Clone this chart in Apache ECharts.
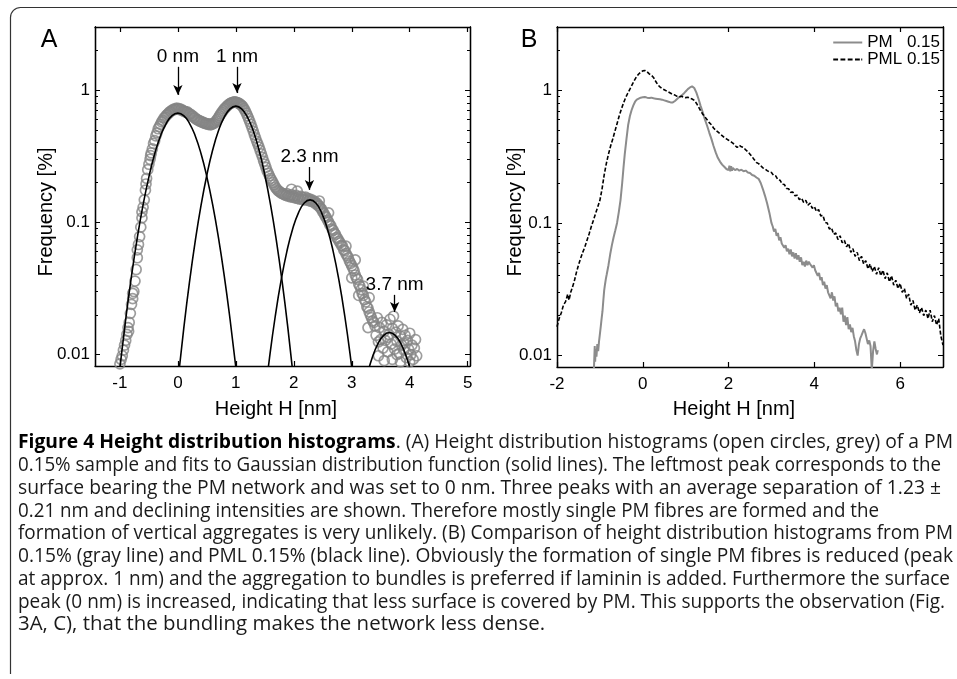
<!DOCTYPE html>
<html><head><meta charset="utf-8">
<script src="https://cdn.jsdelivr.net/npm/echarts@6/dist/echarts.min.js"></script>
<style>html,body{margin:0;padding:0;background:#fff}#chart{width:957px;height:679px}</style>
</head><body><div id="chart"></div>
<script>
// ---------- data ----------
const circlesA = [
[-1.00,0.0085],[-0.98,0.0092],[-0.96,0.0098],[-0.94,0.0108],[-0.92,0.0118],[-0.90,0.0128],[-0.88,0.0142],[-0.86,0.0160],[-0.84,0.0175],[-0.82,0.0205],
[-0.80,0.0240],[-0.78,0.0265],[-0.76,0.0300],[-0.74,0.0360],[-0.72,0.0440],[-0.70,0.0540],[-0.68,0.0680],[-0.66,0.0780],[-0.64,0.0920],[-0.62,0.1080],
[-0.60,0.1300],[-0.58,0.1480],[-0.56,0.1750],[-0.54,0.2150],[-0.52,0.2500],[-0.50,0.2750],[-0.48,0.3000],[-0.46,0.3350],[-0.44,0.3600],[-0.42,0.3950],
[-0.40,0.4150],[-0.38,0.4500],[-0.36,0.4750],[-0.34,0.5100],[-0.32,0.5300],[-0.30,0.5500],[-0.28,0.5750],[-0.26,0.5900],[-0.24,0.6150],[-0.22,0.6250],
[-0.20,0.6450],[-0.18,0.6550],[-0.16,0.6700],[-0.14,0.6850],[-0.12,0.6900],[-0.10,0.7050],[-0.08,0.7100],[-0.06,0.7200],[-0.04,0.7150],[-0.02,0.7300],
[0.00,0.7200],[0.02,0.7250],[0.04,0.7100],[0.06,0.7150],[0.08,0.7000],[0.10,0.6950],[0.12,0.6900],[0.14,0.6800],[0.16,0.6850],[0.18,0.6700],
[0.20,0.6600],[0.22,0.6550],[0.24,0.6400],[0.26,0.6350],[0.28,0.6200],[0.30,0.6150],[0.32,0.6000],[0.34,0.5950],[0.36,0.5900],[0.38,0.5800],
[0.40,0.5800],[0.42,0.5700],[0.44,0.5700],[0.46,0.5600],[0.48,0.5600],[0.50,0.5550],[0.52,0.5500],[0.54,0.5550],[0.56,0.5450],[0.58,0.5500],
[0.60,0.5550],[0.62,0.5600],[0.64,0.5700],[0.66,0.5850],[0.68,0.6000],[0.70,0.6200],[0.72,0.6400],[0.74,0.6600],[0.76,0.6800],[0.78,0.7000],
[0.80,0.7200],[0.82,0.7350],[0.84,0.7500],[0.86,0.7650],[0.88,0.7800],[0.90,0.7900],[0.92,0.8000],[0.94,0.8050],[0.96,0.8100],[0.98,0.8150],
[1.00,0.8100],[1.02,0.8050],[1.04,0.8000],[1.06,0.7900],[1.08,0.7800],[1.10,0.7650],[1.12,0.7500],[1.14,0.7250],[1.16,0.7000],[1.18,0.6700],
[1.20,0.6400],[1.22,0.6100],[1.24,0.5800],[1.26,0.5500],[1.28,0.5200],[1.30,0.4900],[1.32,0.4600],[1.34,0.4350],[1.36,0.4100],[1.38,0.3900],
[1.40,0.3700],[1.42,0.3500],[1.44,0.3300],[1.46,0.3100],[1.48,0.2900],[1.50,0.2750],[1.52,0.2600],[1.54,0.2450],[1.56,0.2350],[1.58,0.2250],
[1.60,0.2150],[1.62,0.2080],[1.64,0.2000],[1.66,0.1920],[1.68,0.1850],[1.70,0.1800],[1.72,0.1750],[1.74,0.1720],[1.76,0.1700],[1.78,0.1670],
[1.80,0.1650],[1.82,0.1640],[1.84,0.1620],[1.86,0.1600],[1.88,0.1650],[1.90,0.1580],[1.92,0.1600],[1.94,0.1560],[1.96,0.1620],[1.98,0.1550],
[2.00,0.1580],[2.02,0.1530],[2.04,0.1600],[2.06,0.1520],[2.08,0.1560],[2.10,0.1500],[2.12,0.1570],[2.14,0.1500],[2.16,0.1540],[2.18,0.1480],
[2.20,0.1550],[2.22,0.1480],[2.24,0.1520],[2.26,0.1460],[2.28,0.1500],[2.30,0.1440],[2.32,0.1470],[2.34,0.1420],[2.36,0.1440],[2.38,0.1380],
[2.40,0.1400],[2.42,0.1340],[2.44,0.1330],[2.46,0.1280],[2.48,0.1260],[2.50,0.1200],[2.52,0.1170],[2.54,0.1120],[2.56,0.1090],[2.58,0.1040],
[2.60,0.1010],[2.62,0.0960],[2.64,0.0940],[2.66,0.0890],[2.68,0.0870],[2.70,0.0830],[2.72,0.0810],[2.74,0.0770],[2.76,0.0750],[2.78,0.0720],
[2.80,0.0700],[2.82,0.0670],[2.84,0.0660],[2.86,0.0620],[2.88,0.0610],[2.90,0.0580],[2.92,0.0560],[2.94,0.0540],[2.96,0.0510],[2.98,0.0490],
[3.00,0.0470],[3.02,0.0450],[3.04,0.0430],[3.06,0.0400],[3.08,0.0380],[3.10,0.0370],[3.12,0.0340],[3.14,0.0330],[3.16,0.0310],[3.18,0.0290],
[3.20,0.0280],[3.22,0.0260],[3.24,0.0250],[3.26,0.0230],[3.28,0.0225],[3.30,0.0210],[3.32,0.0200],[3.34,0.0190],[3.36,0.0180],[3.38,0.0175],
[1.96,0.1780],[2.06,0.1720],[2.44,0.1450],[2.60,0.1180],[2.90,0.0660],[3.00,0.0380],[3.06,0.0520],[3.12,0.0280],[3.20,0.0330],[3.28,0.0160],[3.30,0.0270],
[-0.70,0.0620],[-0.62,0.1200],[-0.55,0.1950],[-0.47,0.3200],[-0.85,0.0150],[-0.78,0.0290],
[3.40,0.0165],[3.42,0.0140],[3.44,0.0190],[3.46,0.0125],[3.48,0.0160],[3.50,0.0130],[3.52,0.0175],[3.54,0.0112],[3.56,0.0150],[3.58,0.0128],
[3.60,0.0168],[3.62,0.0105],[3.64,0.0142],[3.66,0.0185],[3.68,0.0120],[3.70,0.0158],[3.72,0.0195],[3.74,0.0110],[3.76,0.0148],[3.78,0.0126],
[3.80,0.0165],[3.82,0.0102],[3.84,0.0138],[3.86,0.0118],[3.88,0.0155],[3.90,0.0108],[3.92,0.0140],[3.94,0.0095],[3.96,0.0128],[3.98,0.0110],
[4.00,0.0145],[4.02,0.0100],[4.04,0.0118],[4.06,0.0092],[4.08,0.0112],[4.10,0.0130],[4.12,0.0098],
[3.56,0.0090],[3.70,0.0092],[3.84,0.0088],[3.46,0.0098],[3.90,0.0122],[3.62,0.0135],[3.78,0.0100],[4.00,0.0088]
];
const fitPeak0 = [[-1.0,0.0080],[-0.9,0.0185],[-0.8,0.0394],[-0.7,0.0765],[-0.6,0.136],[-0.5,0.221],[-0.4,0.330],[-0.3,0.450],[-0.2,0.561],[-0.1,0.641],[0,0.67],
[0.1,0.641],[0.2,0.561],[0.3,0.450],[0.4,0.330],[0.5,0.221],[0.6,0.136],[0.7,0.0765],[0.8,0.0394],[0.9,0.0185],[1.0,0.0080]];
const fitPeak1 = [[0.0,0.00628],[0.1,0.0156],[0.2,0.0353],[0.3,0.0724],[0.4,0.135],[0.5,0.228],[0.6,0.352],[0.7,0.492],[0.8,0.625],[0.9,0.722],[1.0,0.757],
[1.1,0.722],[1.2,0.625],[1.3,0.492],[1.4,0.352],[1.5,0.228],[1.6,0.135],[1.7,0.0724],[1.8,0.0353],[1.9,0.0156],[2.0,0.00628]];
const fitPeak2 = [[1.48,0.00403],[1.58,0.00938],[1.68,0.0195],[1.78,0.0362],[1.88,0.0601],[1.98,0.0892],[2.08,0.118],[2.18,0.140],[2.28,0.148],
[2.38,0.140],[2.48,0.118],[2.58,0.0892],[2.68,0.0601],[2.78,0.0362],[2.88,0.0195],[2.98,0.00938],[3.08,0.00403]];
const fitPeak3 = [[3.25,0.00663],[3.35,0.00939],[3.45,0.01205],[3.55,0.01399],[3.65,0.0147],[3.75,0.01399],[3.85,0.01205],[3.95,0.00939],[4.05,0.00663]];

const pmB = [
[-1.14,0.0078],[-1.12,0.0118],[-1.11,0.0090],[-1.10,0.0112],[-1.08,0.0098],[-1.06,0.0122],[-1.04,0.0108],[-1.02,0.0128],[-1.00,0.0145],[-0.98,0.0165],
[-0.96,0.0190],[-0.94,0.0215],[-0.92,0.0260],[-0.90,0.0310],[-0.88,0.0345],[-0.86,0.0380],[-0.84,0.0410],[-0.80,0.0480],[-0.76,0.0580],[-0.72,0.0680],
[-0.68,0.0780],[-0.64,0.0880],[-0.60,0.1000],[-0.56,0.1200],[-0.52,0.1480],[-0.48,0.2000],[-0.45,0.2600],[-0.42,0.3300],[-0.38,0.4300],[-0.34,0.5500],
[-0.30,0.6400],[-0.26,0.7100],[-0.22,0.7700],[-0.18,0.8200],[-0.14,0.8500],[-0.10,0.8700],[-0.05,0.8800],[0.00,0.8850],[0.05,0.8900],[0.10,0.8800],
[0.15,0.8750],[0.20,0.8800],[0.25,0.8700],[0.30,0.8650],[0.35,0.8600],[0.40,0.8550],[0.45,0.8500],[0.50,0.8400],[0.55,0.8300],[0.60,0.8200],
[0.65,0.8100],[0.70,0.8100],[0.75,0.8300],[0.80,0.8600],[0.85,0.8900],[0.90,0.9100],[0.95,0.9400],[1.00,0.9800],[1.05,1.0200],[1.10,1.0500],
[1.15,1.0700],[1.20,1.0400],[1.25,0.9600],[1.30,0.8600],[1.35,0.7600],[1.40,0.6800],[1.45,0.6000],[1.50,0.5400],[1.55,0.4800],[1.60,0.4300],
[1.65,0.3800],[1.70,0.3400],[1.75,0.3100],[1.80,0.2900],[1.85,0.2750],[1.90,0.2650],[1.95,0.2550],[2.00,0.2500],[2.02,0.2700],[2.04,0.2450],
[2.06,0.2680],[2.08,0.2480],[2.10,0.2600],[2.15,0.2500],[2.20,0.2550],[2.25,0.2480],[2.30,0.2520],[2.35,0.2450],[2.40,0.2480],[2.45,0.2400],
[2.50,0.2380],[2.55,0.2300],[2.60,0.2270],[2.65,0.2200],[2.70,0.2150],[2.75,0.2000],[2.80,0.1800],[2.85,0.1600],[2.90,0.1400],[2.95,0.1200],
[3.00,0.1000],[3.03,0.0940],[3.06,0.0860],[3.09,0.0900],[3.12,0.0800],[3.15,0.0840],[3.18,0.0740],[3.21,0.0780],[3.24,0.0700],[3.27,0.0720],
[3.30,0.0650],[3.33,0.0680],[3.36,0.0610],[3.39,0.0640],[3.42,0.0580],[3.45,0.0630],[3.48,0.0560],[3.51,0.0600],[3.54,0.0540],[3.57,0.0590],
[3.60,0.0530],[3.63,0.0570],[3.66,0.0510],[3.69,0.0550],[3.72,0.0480],[3.75,0.0510],[3.78,0.0470],[3.81,0.0520],[3.84,0.0480],[3.87,0.0510],
[3.90,0.0490],[3.93,0.0500],[3.96,0.0460],[3.99,0.0480],[4.02,0.0440],[4.05,0.0450],[4.08,0.0400],[4.11,0.0420],[4.14,0.0370],[4.17,0.0390],
[4.20,0.0340],[4.23,0.0360],[4.26,0.0320],[4.29,0.0340],[4.32,0.0300],[4.35,0.0310],[4.38,0.0270],[4.41,0.0300],[4.44,0.0260],[4.47,0.0280],
[4.50,0.0235],[4.53,0.0250],[4.56,0.0215],[4.59,0.0230],[4.62,0.0205],[4.65,0.0230],[4.68,0.0180],[4.71,0.0200],[4.74,0.0170],[4.77,0.0195],
[4.80,0.0158],[4.83,0.0172],[4.86,0.0150],[4.89,0.0162],[4.92,0.0140],[4.95,0.0128],[4.98,0.0110],[5.01,0.0100],[5.04,0.0122],[5.07,0.0135],
[5.10,0.0142],[5.13,0.0150],[5.16,0.0158],[5.19,0.0148],[5.22,0.0152],[5.25,0.0122],[5.28,0.0130],[5.31,0.0118],[5.34,0.0078],[5.37,0.0108],
[5.40,0.0128],[5.43,0.0112],[5.46,0.0102],[5.48,0.0110]
];
const pmlB = [
[-2.00,0.0165],[-1.95,0.0190],[-1.90,0.0210],[-1.85,0.0240],[-1.80,0.0255],[-1.75,0.0290],[-1.72,0.0262],[-1.68,0.0300],[-1.65,0.0320],[-1.60,0.0360],
[-1.55,0.0420],[-1.50,0.0480],[-1.45,0.0540],[-1.40,0.0600],[-1.35,0.0660],[-1.30,0.0740],[-1.25,0.0830],[-1.20,0.0940],[-1.15,0.1050],[-1.10,0.1180],
[-1.05,0.1320],[-1.00,0.1480],[-0.95,0.1800],[-0.90,0.2300],[-0.85,0.2800],[-0.80,0.3300],[-0.75,0.3800],[-0.70,0.4300],[-0.65,0.4900],[-0.60,0.5600],
[-0.55,0.6400],[-0.50,0.7200],[-0.45,0.8000],[-0.40,0.8800],[-0.35,0.9500],[-0.30,1.0200],[-0.25,1.1000],[-0.20,1.1800],[-0.15,1.2600],[-0.10,1.3200],
[-0.05,1.3700],[0.00,1.4000],[0.05,1.4100],[0.10,1.3800],[0.15,1.3300],[0.20,1.3000],[0.25,1.2500],[0.30,1.1700],[0.35,1.1000],[0.40,1.0600],
[0.45,1.0300],[0.50,1.0100],[0.55,0.9900],[0.60,0.9700],[0.65,0.9500],[0.70,0.9300],[0.75,0.9200],[0.80,0.9000],[0.85,0.8900],[0.90,0.9000],
[0.95,0.8900],[1.00,0.8800],[1.05,0.8850],[1.10,0.8700],[1.15,0.8600],[1.20,0.8400],[1.25,0.8000],[1.30,0.7500],[1.35,0.7000],[1.40,0.6600],
[1.45,0.6300],[1.50,0.6000],[1.55,0.5700],[1.60,0.5500],[1.65,0.5200],[1.70,0.5000],[1.75,0.4850],[1.80,0.4700],[1.85,0.4550],[1.90,0.4400],
[1.95,0.4300],[2.00,0.4200],[2.05,0.4100],[2.10,0.4000],[2.15,0.3850],[2.20,0.3700],[2.25,0.3850],[2.30,0.3750],[2.35,0.3700],[2.40,0.3550],
[2.45,0.3450],[2.50,0.3300],[2.55,0.3150],[2.60,0.3000],[2.65,0.2850],[2.70,0.2800],[2.75,0.2700],[2.80,0.2600],[2.85,0.2550],[2.90,0.2480],
[2.95,0.2420],[3.00,0.2400],[3.05,0.2280],[3.10,0.2260],[3.15,0.2120],[3.20,0.2100],[3.25,0.1960],[3.30,0.1950],[3.35,0.1820],[3.40,0.1810],
[3.45,0.1700],[3.50,0.1710],[3.55,0.1600],[3.60,0.1620],[3.65,0.1500],[3.70,0.1540],[3.75,0.1430],[3.80,0.1480],[3.85,0.1360],[3.90,0.1410],
[3.95,0.1290],[4.00,0.1330],[4.05,0.1220],[4.10,0.1260],[4.15,0.1130],[4.20,0.1140],[4.25,0.1010],[4.30,0.1000],[4.35,0.0900],[4.40,0.0920],
[4.45,0.0820],[4.50,0.0840],[4.55,0.0750],[4.60,0.0800],[4.65,0.0710],[4.70,0.0740],[4.75,0.0660],[4.80,0.0700],[4.85,0.0600],[4.90,0.0640],
[4.95,0.0560],[5.00,0.0600],[5.05,0.0520],[5.10,0.0560],[5.15,0.0490],[5.20,0.0520],[5.25,0.0450],[5.30,0.0490],[5.35,0.0430],[5.40,0.0470],
[5.45,0.0410],[5.50,0.0460],[5.55,0.0400],[5.60,0.0440],[5.65,0.0380],[5.70,0.0420],[5.75,0.0360],[5.80,0.0400],[5.85,0.0340],[5.90,0.0370],
[5.95,0.0320],[6.00,0.0350],[6.05,0.0300],[6.10,0.0320],[6.15,0.0270],[6.20,0.0290],[6.25,0.0240],[6.30,0.0260],[6.35,0.0220],[6.40,0.0240],
[6.45,0.0210],[6.50,0.0230],[6.55,0.0200],[6.60,0.0220],[6.65,0.0190],[6.70,0.0220],[6.75,0.0180],[6.80,0.0200],[6.85,0.0170],[6.90,0.0190],
[6.95,0.0140],[7.00,0.0120]
];

const xTicksA = [-1,0,1,2,3,4,5];
const xTicksB = [-2,0,2,4,6];
const yTicks = [0.01,0.1,1];
const yMinorTicks = [0.02,0.03,0.04,0.05,0.06,0.07,0.08,0.09,0.2,0.3,0.4,0.5,0.6,0.7,0.8,0.9,2,3];
const peakLabels = ['0 nm','1 nm','2.3 nm','3.7 nm'];
const peakArrowX = [0, 1.02, 2.27, 3.74];
const peakArrowTop = [1.5, 1.5, 0.262, 0.0283];
const peakArrowEnd = [0.92, 0.95, 0.176, 0.021];
const legendNames = ['PM   0.15','PML 0.15'];
const panelLetters = ['A','B'];
const axisNameX = 'Height H [nm]';
const axisNameY = 'Frequency [%]';
const captionTitle = 'Figure 4 Height distribution histograms';
const captionLines = [
 '. (A) Height distribution histograms (open circles, grey) of a PM',
 '0.15% sample and fits to Gaussian distribution function (solid lines). The leftmost peak corresponds to the',
 'surface bearing the PM network and was set to 0 nm. Three peaks with an average separation of 1.23 \u00b1',
 '0.21 nm and declining intensities are shown. Therefore mostly single PM fibres are formed and the',
 'formation of vertical aggregates is very unlikely. (B) Comparison of height distribution histograms from PM',
 '0.15% (gray line) and PML 0.15% (black line). Obviously the formation of single PM fibres is reduced (peak',
 'at approx. 1 nm) and the aggregation to bundles is preferred if laminin is added. Furthermore the surface',
 'peak (0 nm) is increased, indicating that less surface is covered by PM. This supports the observation (Fig.',
 '3A, C), that the bundling makes the network less dense.'
];
// right edge of each caption line in the reference (layout)
const captionLineEnds = [953, 941, 941, 879, 953, 953, 950, 945, 545];

// ---------- chart ----------
const FONT = "'Liberation Sans', Arial, sans-serif";
const CAP_FONT = "'Open Sans', sans-serif";
const CAP_SIZE = 19.2;
const CAP_LEFT = 18;
const Y_MIN = 0.0082, Y_MAX = 3;
const chart = echarts.init(document.getElementById('chart'), null, {renderer: 'canvas'});

const measureCtx = document.createElement('canvas').getContext('2d');
function textWidth(str, bold) {
  measureCtx.font = (bold ? 'bold ' : '') + CAP_SIZE + 'px ' + CAP_FONT;
  return measureCtx.measureText(str).width;
}

function xAxisDef(grid, min, max, ticks, pos, labels) {
  return {type: 'value', gridIndex: grid, min: min, max: max, position: pos,
    axisLine: {show: true, onZero: false, lineStyle: {color: '#000', width: 1.3}},
    axisTick: {show: true, inside: true, length: 5, customValues: ticks, lineStyle: {color: '#000', width: 1.2}},
    axisLabel: {show: labels, customValues: ticks, margin: 9, color: '#000', fontSize: 17, fontFamily: FONT},
    splitLine: {show: false}};
}
function yAxisDef(grid, pos, ticks, len, labels) {
  return {type: 'log', logBase: 10, gridIndex: grid, min: Y_MIN, max: Y_MAX, position: pos,
    axisLine: {show: true, onZero: false, lineStyle: {color: '#000', width: 1.3}},
    axisTick: {show: true, inside: true, length: len, customValues: ticks, lineStyle: {color: '#000', width: 1}},
    axisLabel: {show: labels, customValues: ticks, margin: 5, color: '#000', fontSize: 17, fontFamily: FONT,
      formatter: function (v) { return String(+(+v).toPrecision(2)); }},
    splitLine: {show: false}};
}

const graphics = [
  {type: 'rect', shape: {x: 10.5, y: 7.5, width: 1000, height: 700, r: [10, 0, 0, 0]}, style: {stroke: '#333', lineWidth: 1.2, fill: 'none'}, silent: true, z: -1},
  {type: 'rect', shape: {x: 5, y: 674, width: 12, height: 10}, style: {fill: '#fff'}, silent: true, z: 0},
  {type: 'text', x: 49, y: 40, style: {text: panelLetters[0], font: '25px ' + FONT, fill: '#000', align: 'center', verticalAlign: 'middle'}},
  {type: 'text', x: 529, y: 40, style: {text: panelLetters[1], font: '25px ' + FONT, fill: '#000', align: 'center', verticalAlign: 'middle'}},
  {type: 'text', x: 46, y: 212, rotation: Math.PI / 2, style: {text: axisNameY, font: '20px ' + FONT, fill: '#000', align: 'center', verticalAlign: 'middle'}},
  {type: 'text', x: 515, y: 212, rotation: Math.PI / 2, style: {text: axisNameY, font: '20px ' + FONT, fill: '#000', align: 'center', verticalAlign: 'middle'}},
  {type: 'text', x: 276, y: 409, style: {text: axisNameX, font: '20px ' + FONT, fill: '#000', align: 'center', verticalAlign: 'middle'}},
  {type: 'text', x: 734, y: 409, style: {text: axisNameX, font: '20px ' + FONT, fill: '#000', align: 'center', verticalAlign: 'middle'}}
];
captionLines.forEach(function (line, i) {
  let text = line, w = textWidth(line, false);
  if (i === 0) { text = '{b|' + captionTitle + '}' + line; w += textWidth(captionTitle, true); }
  const sx = (captionLineEnds[i] - CAP_LEFT) / w;
  graphics.push({type: 'text', x: CAP_LEFT, y: 443 + i * 22.75, scaleX: sx, silent: true,
    style: {text: text, fontFamily: CAP_FONT, fontSize: CAP_SIZE, fill: '#1a1a1a', verticalAlign: 'middle', align: 'left',
      rich: {b: {fontFamily: CAP_FONT, fontSize: CAP_SIZE, fontWeight: 'bold', fill: '#000'}}}});
});

const fitStyle = function (d) {
  return {type: 'line', xAxisIndex: 0, yAxisIndex: 0, data: d, symbol: 'none', smooth: true, silent: true, z: 4,
    lineStyle: {color: '#000', width: 1.6}};
};

chart.setOption({
  animation: false,
  textStyle: {fontFamily: FONT},
  grid: [
    {left: 95, top: 27, width: 375, height: 339},
    {left: 557, top: 27, width: 386, height: 340}
  ],
  xAxis: [
    xAxisDef(0, -1.43, 5.04, xTicksA, 'bottom', true),
    xAxisDef(0, -1.43, 5.04, xTicksA, 'top', false),
    xAxisDef(1, -2, 7, xTicksB, 'bottom', true),
    xAxisDef(1, -2, 7, xTicksB, 'top', false)
  ],
  yAxis: [
    yAxisDef(0, 'left', yTicks, 5, true),
    yAxisDef(0, 'left', yMinorTicks, 3, false),
    yAxisDef(0, 'right', yTicks, 5, false),
    yAxisDef(0, 'right', yMinorTicks, 3, false),
    yAxisDef(1, 'left', yTicks, 5, true),
    yAxisDef(1, 'left', yMinorTicks, 3, false),
    yAxisDef(1, 'right', yTicks, 5, false),
    yAxisDef(1, 'right', yMinorTicks, 3, false)
  ],
  legend: {
    data: [
      {name: legendNames[0], icon: 'path://M0,0H30V2H0Z'},
      {name: legendNames[1], icon: 'path://M0,0H5V2H0Z M7.5,0H12.5V2H7.5Z M15,0H20V2H15Z M22.5,0H27.5V2H22.5Z M29,0H30V2H29Z'}
    ],
    orient: 'vertical', right: 12, top: 29, align: 'left', itemWidth: 29, itemHeight: 2, itemGap: 0,
    symbolKeepAspect: false, selectedMode: false, padding: 5,
    textStyle: {fontSize: 17, fontFamily: FONT, color: '#000', lineHeight: 16}
  },
  graphic: graphics,
  series: [
    {type: 'scatter', name: 'circles', xAxisIndex: 0, yAxisIndex: 0, data: circlesA, symbol: 'circle', symbolSize: 10, silent: true, z: 2,
      itemStyle: {color: 'rgba(0,0,0,0)', borderColor: '#858585', borderWidth: 1.7},
      markLine: {silent: true, symbol: ['none', 'arrow'], symbolSize: [7, 10], animation: false,
        lineStyle: {color: '#000', width: 1.3, type: 'solid'},
        label: {show: true, position: 'start', distance: 1, color: '#000', fontSize: 19, fontFamily: FONT, formatter: function (p) { return p.name; }},
        emphasis: {disabled: true},
        data: peakLabels.map(function (n, i) { return [{name: n, coord: [peakArrowX[i], peakArrowTop[i]]}, {coord: [peakArrowX[i], peakArrowEnd[i]]}]; })
      }},
    fitStyle(fitPeak0), fitStyle(fitPeak1), fitStyle(fitPeak2), fitStyle(fitPeak3),
    {type: 'line', name: legendNames[0], xAxisIndex: 2, yAxisIndex: 4, data: pmB, symbol: 'none', z: 3,
      lineStyle: {color: '#8c8c8c', width: 2}, itemStyle: {color: '#8c8c8c'}},
    {type: 'line', name: legendNames[1], xAxisIndex: 2, yAxisIndex: 4, data: pmlB, symbol: 'none', z: 4,
      lineStyle: {color: '#000', width: 1.6, type: [4, 2]}, itemStyle: {color: '#000'}}
  ]
});
</script>
</body></html>
